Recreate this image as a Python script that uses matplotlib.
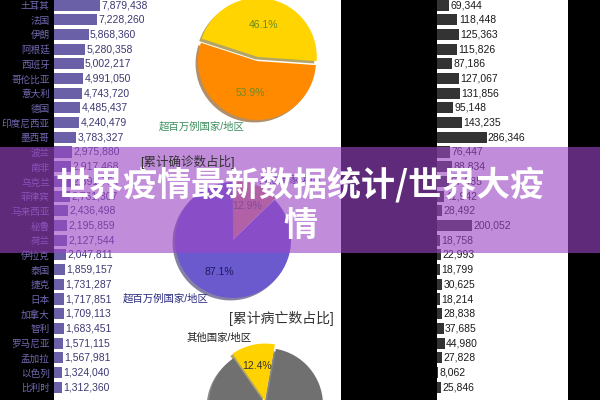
import matplotlib
matplotlib.use("Agg")
import matplotlib.pyplot as plt
from matplotlib.patches import Rectangle

plt.rcParams['font.family'] = ['Liberation Sans', 'Noto Sans CJK SC', 'DejaVu Sans']

# data
countries = ["土耳其", "法国", "伊朗", "阿根廷", "西班牙", "哥伦比亚", "意大利", "德国",
             "印度尼西亚", "墨西哥", "波兰", "南非", "乌克兰", "菲律宾", "马来西亚", "秘鲁",
             "荷兰", "伊拉克", "泰国", "捷克", "日本", "加拿大", "智利", "罗马尼亚",
             "孟加拉", "以色列", "比利时"]
cases = [7879438, 7228260, 5868360, 5280358, 5002217, 4991050, 4743720, 4485437,
         4240479, 3783327, 2975880, 2917468, 2891754, 2761307, 2436498, 2195859,
         2127544, 2047811, 1859157, 1731287, 1717851, 1709113, 1683451, 1571115,
         1567981, 1324040, 1312360]
deaths = [69344, 118448, 125363, 115826, 87186, 127067, 131856, 95148,
          143235, 286346, 76447, 88834, 67985, 41942, 28492, 200052,
          18758, 22993, 18799, 30625, 18214, 28838, 37685, 44980,
          27828, 8062, 25846]

pie_labels = ["其他国家/地区", "超百万例国家/地区"]
share_top = [46.1, 53.9]
share_cases = [12.9, 87.1]
share_deaths = [12.4, 87.6]

W, H = 600, 400
fig = plt.figure(figsize=(6, 4), dpi=100)
fig.patch.set_facecolor('black')


def px_axes(x0, y0, x1, y1, **kw):
    # axes placed by pixel box (origin top-left)
    return fig.add_axes([x0 / W, 1 - y1 / H, (x1 - x0) / W, (y1 - y0) / H], **kw)


row_h = 14.7
first = 5
ymax = (H - first) / row_h
ymin = -first / row_h
rows = list(range(len(countries)))

# left: confirmed cases
axl = px_axes(54, 0, 341, 400)
axl.set_facecolor('white')
bl = axl.barh(rows, cases, height=0.75, color='#6a60a8')
axl.bar_label(bl, labels=[f'{v:,}' for v in cases], padding=1, fontsize=7.5, color='#3c3872')
axl.set_xlim(0, 287 / 5.9e-6)
axl.set_ylim(ymax, ymin)
axl.set_yticks(rows)
axl.set_yticklabels(countries, color='#7068b0', fontsize=6.9)
axl.set_xticks([])
axl.tick_params(length=0, pad=3)
for s in axl.spines.values():
    s.set_visible(False)

# right: deaths
axr = px_axes(437, 0, 568, 400)
axr.set_facecolor('white')
br = axr.barh(rows, deaths, height=0.75, color='#333333')
axr.bar_label(br, labels=[f'{v:,}' for v in deaths], padding=1, fontsize=7.5, color='#1a1a1a')
axr.set_xlim(0, 131 / 0.173e-3)
axr.set_ylim(ymax, ymin)
axr.set_xticks([])
axr.set_yticks([])
for s in axr.spines.values():
    s.set_visible(False)


def draw_pie(cx, cy, r, vals, colors, start, explode, labels, ldist, pdist, pad=1.8):
    R = r * pad
    ax = px_axes(cx - R, cy - R, cx + R, cy + R)
    w, t, at = ax.pie(vals, colors=colors, startangle=start, explode=explode,
                      shadow=dict(ox=-0.03, oy=-0.03, shade=0.5, alpha=0.6),
                      labels=labels, autopct='%.1f%%', pctdistance=pdist,
                      labeldistance=ldist, textprops=dict(fontsize=7.5),
                      wedgeprops=dict(linewidth=0))
    ax.set_xlim(-pad, pad)
    ax.set_ylim(-pad, pad)
    ax.axis('off')
    return t, at


# pie 1
t, at = draw_pie(257, 61, 59, share_top, ['#ffd400', '#ff8a00'], -4, [0.07, 0],
                 pie_labels, 1.13, 0.55)
for x in t:
    x.set_color('#3b8f5e')
for x in at:
    x.set_color('#6b8a20')

# pie 2
fig.text(140 / W, 1 - 162 / H, "[累计确诊数占比]", fontsize=9, color='#333333', va='center')
t, at = draw_pie(233, 240, 58, share_cases, ['#d98f7a', '#6a5acd'], 44, [0.03, 0],
                 pie_labels, 1.1, 0.6)
for x in t:
    x.set_color('#2a2a80')
at[0].set_color('#555555')
at[1].set_color('#1a1a60')

# pie 3
fig.text(229 / W, 1 - 318 / H, "[累计病亡数占比]", fontsize=10, color='#333333', va='center')
t, at = draw_pie(266, 405, 57, share_deaths, ['#ffd200', '#707070'], 80, [0.08, 0],
                 pie_labels, 1.12, 0.62)
for x in t:
    x.set_color('#222222')
for x in at:
    x.set_color('#333333')

# purple banner on top
axb = px_axes(0, 0, 600, 400)
axb.set_xlim(0, W)
axb.set_ylim(H, 0)
axb.axis('off')
axb.add_patch(Rectangle((0, 147), W, 106, color='#9b45c4', alpha=0.62, lw=0))
axb.text(300, 205, "世界疫情最新数据统计/世界大疫\n情", ha='center', va='center',
         fontsize=24.5, fontweight='bold', color='white', linespacing=1.2,
         family=['Noto Sans CJK SC', 'DejaVu Sans'])

fig.savefig('out.png', dpi=100, facecolor=fig.get_facecolor())
